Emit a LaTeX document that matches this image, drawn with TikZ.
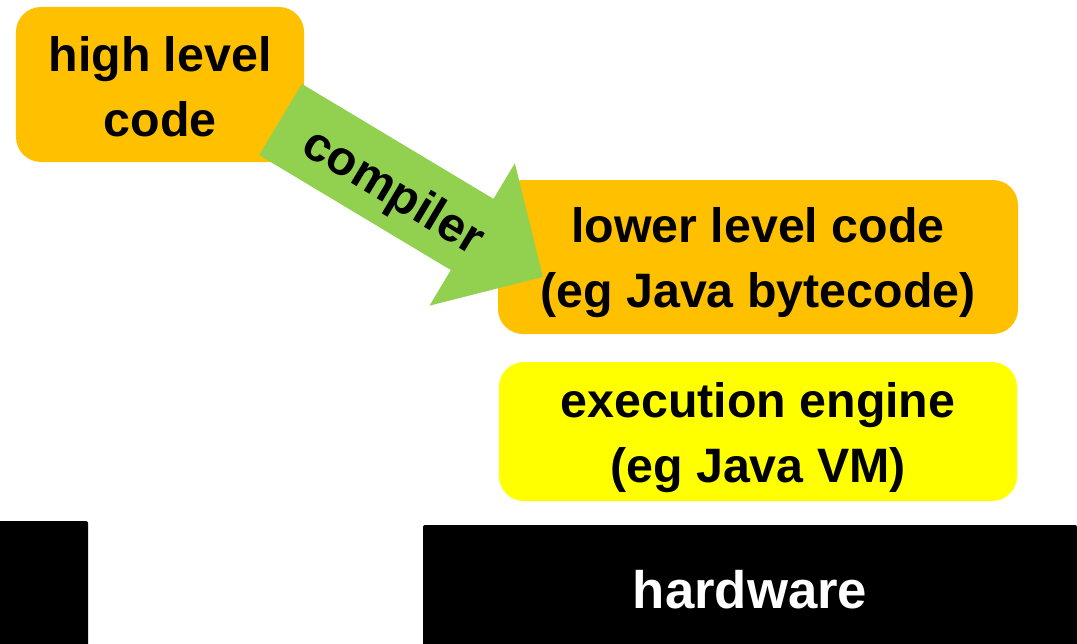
\documentclass[tikz,border=0pt]{standalone}
\usepackage{fontspec}
\setmainfont{Liberation Sans}
\definecolor{camnhat}{HTML}{FFC000}
\definecolor{vangtuoi}{HTML}{FFFF00}
\definecolor{xanhla}{HTML}{92D050}
\newcommand{\nangdong}[1]{\rule{0pt}{#1}}
\tikzset{
    hop/.style={rectangle,rounded corners=5mm,inner sep=0pt,align=center,
        font=\bfseries\fontsize{27.5}{37}\selectfont},
    phancung/.style={rectangle,fill=black,rounded corners=0.4mm,inner sep=0pt}
}

\begin{document}
\begin{tikzpicture}[
    x=0.2mm,y=-0.2mm,
    muiten/.style={fill=xanhla},
    nhan/.style={transform shape,font=\bfseries\fontsize{27.5}{33}\selectfont}
]
\useasboundingbox (0,0) rectangle (1077,643);

% Các khối mã ở phía trên
\node[hop,fill=camnhat,minimum width=57.6mm,minimum height=31mm] (cao) at (160,84.5) {\nangdong{22pt}high level\\code};
\node[hop,fill=camnhat,minimum width=104mm,minimum height=30.8mm] (thap) at (758,257) {\nangdong{26.5pt}lower level code\\(eg Java bytecode)};
\node[hop,fill=vangtuoi,minimum width=103.6mm,minimum height=27.8mm] (may) at (758,431.5) {\nangdong{27pt}execution engine\\(eg Java VM)};

% Phần cứng ở dưới cùng
\node[phancung,minimum width=130.8mm,minimum height=26mm,text=white,
    font=\bfseries\fontsize{30}{36}\selectfont] (pc) at (750,590) {hardware};
\node[phancung,minimum width=19.6mm,minimum height=26.8mm] (pctrai) at (39,588) {};

% Mũi tên trình biên dịch
\coordinate (duoi) at (280.5,119.5);
\begin{scope}[shift={(duoi)},rotate=-30.96]
\fill[muiten] (0,-41.5) -- (223.5,-41.5) -- (223.5,-83) -- (306,0)
    -- (223.5,83) -- (223.5,41.5) -- (0,41.5) -- cycle;
\node[nhan] (bd) at (134,5.5) {compiler};
\end{scope}
\end{tikzpicture}
\end{document}
